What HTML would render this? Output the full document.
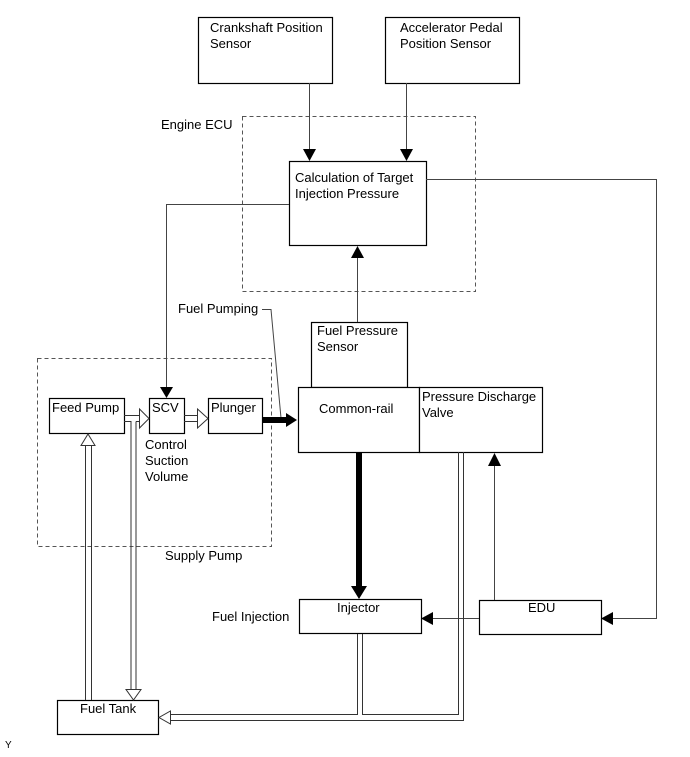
<!DOCTYPE html>
<html><head><meta charset="utf-8"><style>
html,body{margin:0;padding:0;background:#fff;}
svg{display:block;}
text{font-family:"Liberation Sans",Arial,sans-serif;font-size:13px;fill:#000;}
</style></head><body>
<svg width="690" height="757" viewBox="0 0 690 757" xmlns="http://www.w3.org/2000/svg">
<g fill="#fff" stroke="#000" stroke-width="1.2">
<rect x="198.5" y="17.5" width="134" height="66"/>
<rect x="385.5" y="17.5" width="134" height="66"/>
<rect x="289.5" y="161.5" width="137" height="84"/>
<rect x="311.5" y="322.5" width="96" height="65"/>
<rect x="298.5" y="387.5" width="121" height="65"/>
<rect x="419.5" y="387.5" width="123" height="65"/>
<rect x="49.5" y="398.5" width="75" height="35"/>
<rect x="149.5" y="398.5" width="35" height="35"/>
<rect x="208.5" y="398.5" width="54" height="35"/>
<rect x="299.5" y="599.5" width="122" height="34"/>
<rect x="479.5" y="600.5" width="122" height="34"/>
<rect x="57.5" y="700.5" width="101" height="34"/>
</g>
<g fill="none" stroke="#555" stroke-width="1" stroke-dasharray="4,3">
<rect x="242.5" y="116.5" width="233" height="175"/>
<rect x="37.5" y="358.5" width="234" height="188"/>
</g>
<g fill="none" stroke="#444" stroke-width="1">
<line x1="309.5" y1="83" x2="309.5" y2="150"/>
<line x1="406.5" y1="83" x2="406.5" y2="150"/>
<polyline points="426,179.5 656.5,179.5 656.5,618.5 612,618.5"/>
<polyline points="289,204.5 166.5,204.5 166.5,388"/>
<line x1="357.5" y1="322" x2="357.5" y2="257"/>
<line x1="494.5" y1="600" x2="494.5" y2="465"/>
<line x1="479" y1="618.5" x2="432" y2="618.5"/>
<polyline points="262,309.5 271,309.5 281,418"/>
</g>
<g fill="#000" stroke="none">
<polygon points="303,149 316,149 309.5,161"/>
<polygon points="400,149 413,149 406.5,161"/>
<polygon points="351,258 364,258 357.5,246"/>
<polygon points="488,466 501,466 494.5,453"/>
<polygon points="160,387 173,387 166.5,398"/>
<polygon points="613,612 613,625 601,618.5"/>
<polygon points="433,612 433,625 421,618.5"/>
<rect x="262" y="417" width="25" height="6"/>
<polygon points="286,413 286,427 297,420"/>
<rect x="356" y="452" width="6" height="135"/>
<polygon points="351,586 367,586 359,599"/>
</g>
<g fill="none" stroke="#333" stroke-width="1">
<line x1="85.5" y1="700" x2="85.5" y2="445"/>
<line x1="91.5" y1="700" x2="91.5" y2="445"/>
<line x1="124" y1="415.5" x2="140" y2="415.5"/>
<polyline points="124,421.5 131,421.5 131,689"/>
<line x1="136" y1="421.5" x2="140" y2="421.5"/>
<line x1="136" y1="421.5" x2="136" y2="689"/>
<line x1="184" y1="415.5" x2="198" y2="415.5"/>
<line x1="184" y1="421.5" x2="198" y2="421.5"/>
<polyline points="357.5,634 357.5,714.5 170,714.5"/>
<polyline points="362.5,634 362.5,714.5 458.5,714.5 458.5,452"/>
<polyline points="463.5,452 463.5,720.5 170,720.5"/>
</g>
<g fill="#fff" stroke="#333" stroke-width="1">
<polygon points="81,445.5 95,445.5 88,434"/>
<polygon points="139.5,409 149,418.5 139.5,428"/>
<polygon points="126,689.5 141,689.5 133.5,700"/>
<polygon points="197.5,409 208,418.5 197.5,428"/>
<polygon points="170.5,711 170.5,724 159,717.5"/>
</g>
<text x="210" y="32">Crankshaft Position</text>
<text x="210" y="48">Sensor</text>
<text x="400" y="32">Accelerator Pedal</text>
<text x="400" y="48">Position Sensor</text>
<text x="161" y="129">Engine ECU</text>
<text x="295" y="182">Calculation of Target</text>
<text x="295" y="198">Injection Pressure</text>
<text x="178" y="313">Fuel Pumping</text>
<text x="317" y="335">Fuel Pressure</text>
<text x="317" y="351">Sensor</text>
<text x="319" y="413">Common-rail</text>
<text x="422" y="401">Pressure Discharge</text>
<text x="422" y="417">Valve</text>
<text x="52" y="412">Feed Pump</text>
<text x="152" y="412">SCV</text>
<text x="211" y="412">Plunger</text>
<text x="145" y="449">Control</text>
<text x="145" y="465">Suction</text>
<text x="145" y="481">Volume</text>
<text x="165" y="560">Supply Pump</text>
<text x="212" y="621">Fuel Injection</text>
<text x="337" y="612">Injector</text>
<text x="528" y="612">EDU</text>
<text x="80" y="713">Fuel Tank</text>
<text x="5" y="748" style="font-size:10px">Y</text>
</svg>
</body></html>
